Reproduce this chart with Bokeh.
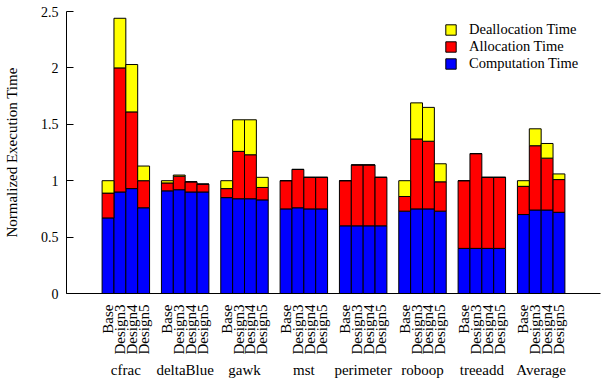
import math

from bokeh.plotting import figure
from bokeh.models import (ColumnDataSource, FactorRange, FixedTicker, Legend, LegendItem)
from bokeh.embed import file_html
from bokeh.resources import INLINE

# Benchmarks and allocator designs
benchmarks = ["cfrac", "deltaBlue", "gawk", "mst", "perimeter", "roboop", "treeadd", "Average"]
designs = ["Base", "Design3", "Design4", "Design5"]

# Segment heights (normalized execution time), one entry per (benchmark, design)
computation = [
    0.67, 0.90, 0.93, 0.76,   # cfrac
    0.91, 0.92, 0.90, 0.90,   # deltaBlue
    0.85, 0.84, 0.84, 0.83,   # gawk
    0.75, 0.76, 0.75, 0.75,   # mst
    0.60, 0.60, 0.60, 0.60,   # perimeter
    0.73, 0.75, 0.75, 0.73,   # roboop
    0.40, 0.40, 0.40, 0.40,   # treeadd
    0.70, 0.74, 0.74, 0.72,   # Average
]
allocation = [
    0.22, 1.10, 0.68, 0.24,
    0.07, 0.12, 0.09, 0.07,
    0.08, 0.42, 0.39, 0.11,
    0.25, 0.34, 0.28, 0.28,
    0.40, 0.54, 0.54, 0.43,
    0.13, 0.62, 0.60, 0.26,
    0.60, 0.84, 0.63, 0.63,
    0.25, 0.57, 0.46, 0.29,
]
deallocation = [
    0.11, 0.44, 0.42, 0.13,
    0.02, 0.01, 0.00, 0.00,
    0.07, 0.28, 0.31, 0.09,
    0.00, 0.00, 0.00, 0.00,
    0.00, 0.00, 0.00, 0.00,
    0.14, 0.32, 0.30, 0.16,
    0.00, 0.00, 0.00, 0.00,
    0.05, 0.15, 0.13, 0.05,
]

y_ticks = [0, 0.5, 1, 1.5, 2, 2.5]
y_tick_labels = ["0", "0.5", "1", "1.5", "2", "2.5"]

factors = [(b, d) for b in benchmarks for d in designs]
source = ColumnDataSource(dict(x=factors, comp=computation, alloc=allocation, dealloc=deallocation))

serif = "'Liberation Serif', 'Times New Roman', serif"

x_range = FactorRange(*factors, factor_padding=0, group_padding=1.0,
                      range_padding=3, range_padding_units="absolute")

p = figure(width=606, height=382, x_range=x_range, y_range=(0, 2.5),
           output_backend="svg", toolbar_location=None,
           min_border_left=66, min_border_right=6, min_border_top=11, min_border_bottom=89)

renderers = p.vbar_stack(["comp", "alloc", "dealloc"], x="x", width=1.0, source=source,
                         color=["#0000ff", "#ff0000", "#ffff00"],
                         line_color="black", line_width=1)
for r in renderers:
    r.glyph.line_color = "black"

p.outline_line_color = None
p.xgrid.visible = False
p.ygrid.visible = False
p.background_fill_color = "white"
p.border_fill_color = "white"

# y axis
ya = p.yaxis[0]
ya.ticker = FixedTicker(ticks=y_ticks)
ya.major_label_overrides = {t: l for t, l in zip(y_ticks, y_tick_labels)}
ya.minor_tick_line_color = None
ya.major_tick_in = 7
ya.major_tick_out = 0
ya.major_tick_line_color = "black"
ya.axis_line_color = "black"
ya.major_label_text_font = serif
ya.major_label_text_font_size = "14px"
ya.major_label_text_color = "black"
ya.major_label_standoff = 8
ya.axis_label = "Normalized Execution Time"
ya.axis_label_text_font = serif
ya.axis_label_text_font_size = "15px"
ya.axis_label_text_font_style = "normal"
ya.axis_label_text_color = "black"
ya.axis_label_standoff = 18

# x axis: design names rotated to read upward, benchmark names below
xa = p.xaxis[0]
xa.major_tick_line_color = None
xa.minor_tick_line_color = None
xa.axis_line_color = "black"
xa.major_label_orientation = math.pi / 2
xa.major_label_text_font = serif
xa.major_label_text_font_size = "15px"
xa.major_label_text_color = "black"
xa.major_label_standoff = 5
xa.group_text_font = serif
xa.group_text_font_size = "15px"
xa.group_text_font_style = "normal"
xa.group_text_color = "black"
xa.group_label_orientation = "horizontal"
xa.separator_line_color = None

legend = Legend(items=[
    LegendItem(label="Deallocation Time", renderers=[renderers[2]]),
    LegendItem(label="Allocation Time", renderers=[renderers[1]]),
    LegendItem(label="Computation Time", renderers=[renderers[0]]),
], location=(378, 221))
legend.padding = 0
legend.margin = 0
legend.spacing = -1
legend.glyph_width = 13
legend.glyph_height = 13
legend.label_height = 13
legend.label_standoff = 12
legend.label_text_font = serif
legend.label_text_font_size = "14.5px"
legend.label_text_color = "black"
legend.border_line_color = None
legend.background_fill_alpha = 0
p.add_layout(legend)

open("out.html", "w").write(file_html(p, INLINE))
